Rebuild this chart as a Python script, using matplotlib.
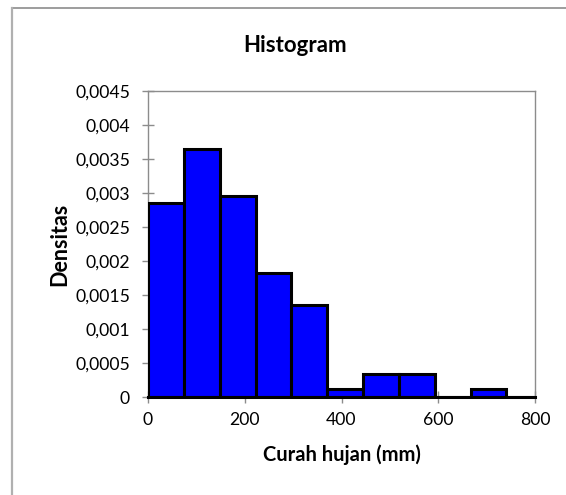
import matplotlib
matplotlib.use("Agg")
import matplotlib.pyplot as plt
from matplotlib.lines import Line2D
from matplotlib.ticker import MultipleLocator, FuncFormatter

# histogram of rainfall, densities
bin_left = [0, 74.1, 148.2, 222.3, 296.4, 370.5, 444.6, 518.7, 592.8, 666.9, 741.0]
bin_width = 74.1
density = [0.00285, 0.00364, 0.00295, 0.00182, 0.00136, 0.000113,
           0.000343, 0.000343, 0.0, 0.000113, 0.0]

plt.rcParams['font.family'] = ['Lato', 'DejaVu Sans']

fig = plt.figure(figsize=(5.66, 4.95), dpi=100)
ax = fig.add_axes([148 / 566, 1 - 397 / 495, 387 / 566, 306 / 495])

ax.bar(bin_left, density, width=bin_width, align='edge',
       color='#0000ff', edgecolor='black', linewidth=2.2, zorder=3)

ax.set_xlim(0, 800)
ax.set_ylim(0, 0.0045)
ax.xaxis.set_major_locator(MultipleLocator(200))
ax.yaxis.set_major_locator(MultipleLocator(0.0005))
ax.yaxis.set_major_formatter(FuncFormatter(lambda v, p: ('%g' % v).replace('.', ',')))

for s in ax.spines.values():
    s.set_color('#8c8c8c')
    s.set_linewidth(1.0)
# empty bins show as a thick black base line
ax.spines['bottom'].set_color('black')
ax.spines['bottom'].set_linewidth(2.2)
ax.spines['bottom'].set_zorder(4)

ax.tick_params(axis='both', direction='inout', length=8, width=1,
               color='#8c8c8c', labelsize=12.7, labelcolor='black')
ax.tick_params(axis='y', pad=9)
ax.tick_params(axis='x', pad=7)

ax.set_xlabel('Curah hujan (mm)', fontsize=14.5, fontweight='bold', va='center')
ax.xaxis.set_label_coords(0.5, (397 - 455) / 306)
ax.set_ylabel('Densitas', fontsize=15.5, fontweight='bold', va='center')
ax.yaxis.set_label_coords((60 - 148) / 387, 0.5)
fig.text(295 / 566, 1 - 45 / 495, 'Histogram', ha='center', va='center',
         fontsize=16, fontweight='bold')

# chart frame like the spreadsheet chart area
fig.add_artist(Line2D([12 / 566, 1], [1 - 8 / 495, 1 - 8 / 495],
                      transform=fig.transFigure, color='#8c8c8c', linewidth=1.2))
fig.add_artist(Line2D([12 / 566, 12 / 566], [0, 1 - 8 / 495],
                      transform=fig.transFigure, color='#b0b0b0', linewidth=1.6))

fig.savefig('out.png', dpi=100)
